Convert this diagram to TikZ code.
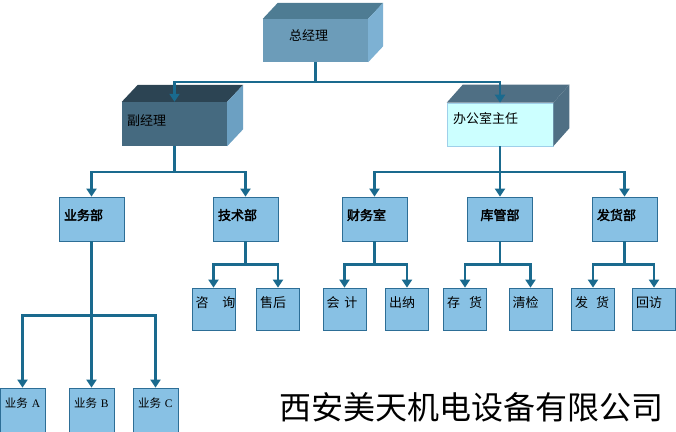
\documentclass[tikz,border=0pt]{standalone}
\usepackage{fontspec}
\setmainfont{Noto Sans CJK SC}[AutoFakeBold=2.5]
\newfontfamily\latinserif{Liberation Serif}
\usetikzlibrary{arrows.meta}
\definecolor{MTLine}{HTML}{1A6A8E}
\definecolor{MTFill}{HTML}{88C1E4}
\definecolor{MTEdge}{HTML}{2D6E96}
\definecolor{MTGmFront}{HTML}{6C9CB9}
\definecolor{MTGmTop}{HTML}{4E7C93}
\definecolor{MTGmSide}{HTML}{7DB1D3}
\definecolor{MTVgmFront}{HTML}{456A80}
\definecolor{MTVgmTop}{HTML}{2C4453}
\definecolor{MTVgmSide}{HTML}{6CA0C2}
\definecolor{MTOffFront}{HTML}{CCFFFF}
\definecolor{MTOffEdge}{HTML}{9FD0EA}
\definecolor{MTOffTop}{HTML}{4F6F84}
\tikzset{
  link/.style={MTLine, line width=2.4pt, -{Triangle[width=10pt,length=8pt]}},
  head/.style={inner ysep=0pt, minimum height=43pt, align=left,
    font=\fontsize{13}{15}\selectfont, text height=11pt},
  dept/.style={draw=MTEdge, line width=0.8pt, fill=MTFill, minimum width=65pt,
    minimum height=44pt, inner xsep=5pt, inner ysep=0pt, text width=55pt, align=left,
    font=\fontsize{13}{15}\selectfont\bfseries, text height=11pt, text depth=9pt},
  leaf/.style={draw=MTEdge, line width=0.8pt, fill=MTFill, minimum width=43pt,
    minimum height=42pt, inner xsep=3.5pt, inner ysep=0pt, text width=36pt, align=left,
    font=\fontsize{13}{15}\selectfont, text height=11pt, text depth=15pt},
  unit/.style={leaf, minimum width=45pt, minimum height=50pt, inner xsep=5pt,
    text width=35pt, font=\fontsize{11.5}{14}\selectfont, text height=9.7pt, text depth=21pt},
}
\begin{document}
\begin{tikzpicture}[x=1pt,y=-1pt]
\path[use as bounding box] (0,0) rectangle (676,431);
% managers
\node[head, fill=MTGmFront, minimum width=105pt, inner xsep=26pt, text width=53pt, text depth=12pt] (gm) at (315.5,40.5) {总经理};
\node[head, fill=MTVgmFront, minimum width=105pt, minimum height=44pt, inner xsep=5pt, text width=95pt, text depth=9pt] (vgm) at (174.5,124) {副经理};
\node[head, fill=MTOffFront, draw=MTOffEdge, line width=0.6pt, minimum width=106pt, inner xsep=6pt, text width=94pt, text depth=14pt] (office) at (500,124.5) {办公室主任};
\fill[MTGmTop] (gm.north west) -- ++(15,-16) -- ([shift={(15,-16)}]gm.north east) -- (gm.north east) -- cycle;
\fill[MTGmSide] (gm.north east) -- ++(15,-16) -- ([shift={(15,-16)}]gm.south east) -- (gm.south east) -- cycle;
\fill[MTVgmTop] (vgm.north west) -- ++(16,-17) -- ([shift={(16,-17)}]vgm.north east) -- (vgm.north east) -- cycle;
\fill[MTVgmSide] (vgm.north east) -- ++(16,-17) -- ([shift={(16,-17)}]vgm.south east) -- (vgm.south east) -- cycle;
\fill[MTOffTop] (office.north west) -- ++(16,-18) -- ([shift={(16,-18)}]office.north east) -- (office.north east) -- cycle;
\fill[MTOffTop] (office.north east) -- ++(16,-18) -- ([shift={(16,-18)}]office.south east) -- (office.south east) -- cycle;
% departments
\node[dept] (sales) at (91.5,219) {业务部};
\node[dept] (tech) at (245.5,219) {技术部};
\node[dept] (finance) at (374.5,219) {财务室};
\node[dept, align=center] (store) at (500,219) {库管部};
\node[dept] (ship) at (624.5,219) {发货部};
% posts
\node[leaf] (consult) at (213.5,309) {\mbox{咨\hspace{14pt}询}};
\node[leaf] (after) at (278,309) {售后};
\node[leaf] (account) at (344.5,309) {\mbox{会\hspace{5pt}计}};
\node[leaf] (cashier) at (407,309) {出纳};
\node[leaf] (stock) at (465,309) {\mbox{存\hspace{9pt}货}};
\node[leaf] (check) at (530.5,309) {清检};
\node[leaf] (deliver) at (593,309) {\mbox{发\hspace{8pt}货}};
\node[leaf] (revisit) at (654,309) {回访};
\node[unit] (salesA) at (22.5,413) {\mbox{业务 {\latinserif A}}};
\node[unit] (salesB) at (91.5,413) {\mbox{业务 {\latinserif B}}};
\node[unit] (salesC) at (155.5,413) {\mbox{业务 {\latinserif C}}};
\node (company) at (471.5,407.5) {\fontsize{32}{36}\selectfont 西安美天机电设备有限公司};
% connectors
\draw[link] (gm.south) -- ++(0,20) -| (vgm.north);
\draw[link] (gm.south) -- ++(0,20) -| (office.north);
\draw[link] (vgm.south) -- ++(0,26) -| (sales.north);
\draw[link] (vgm.south) -- ++(0,26) -| (tech.north);
\draw[link] (office.south) -- ++(0,25.5) -| (finance.north);
\draw[link] (office.south) -- (store.north);
\draw[link] (office.south) -- ++(0,25.5) -| (ship.north);
\draw[link] (tech.south) -- ++(0,23) -| (consult.north);
\draw[link] (tech.south) -- ++(0,23) -| (after.north);
\draw[link] (finance.south) -- ++(0,23) -| (account.north);
\draw[link] (finance.south) -- ++(0,23) -| (cashier.north);
\draw[link] (store.south) -- ++(0,23) -| (stock.north);
\draw[link] (store.south) -- ++(0,23) -| (check.north);
\draw[link] (ship.south) -- ++(0,23) -| (deliver.north);
\draw[link] (ship.south) -- ++(0,23) -| (revisit.north);
\draw[link] (sales.south) -- ++(0,74) -| (salesA.north);
\draw[link] (sales.south) -- (salesB.north);
\draw[link] (sales.south) -- ++(0,74) -| (salesC.north);
\end{tikzpicture}
\end{document}
